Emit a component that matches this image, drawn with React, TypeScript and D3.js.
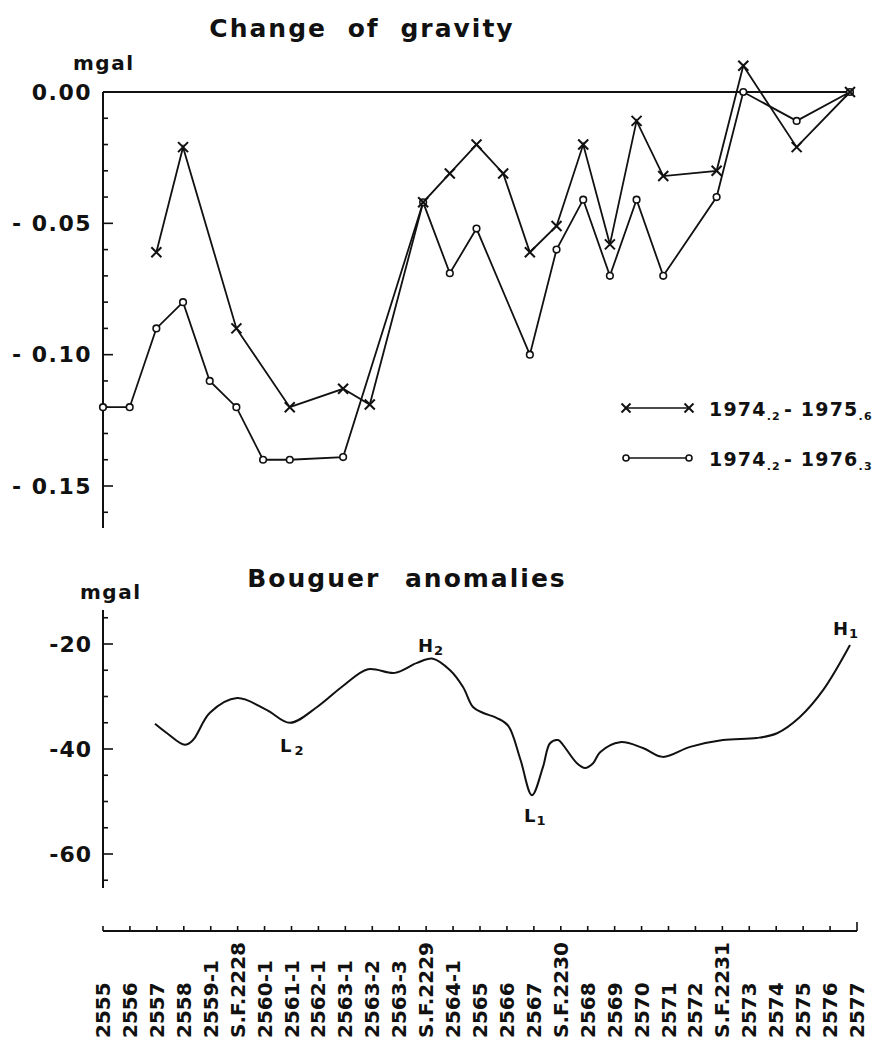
import React from "react";
import * as d3 from "d3";

const stations = [
  "2555", "2556", "2557", "2558", "2559-1", "S.F.2228", "2560-1", "2561-1",
  "2562-1", "2563-1", "2563-2", "2563-3", "S.F.2229", "2564-1", "2565", "2566",
  "2567", "S.F.2230", "2568", "2569", "2570", "2571", "2572", "S.F.2231",
  "2573", "2574", "2575", "2576", "2577",
];

// 1974.2 - 1975.6 (crosses)
const seriesAIdx = [2, 3, 5, 7, 9, 10, 12, 13, 14, 15, 16, 17, 18, 19, 20, 21, 23, 24, 26, 28];
const seriesAVal = [-0.061, -0.021, -0.09, -0.12, -0.113, -0.119, -0.042, -0.031, -0.02, -0.031, -0.061, -0.051, -0.02, -0.058, -0.011, -0.032, -0.03, 0.01, -0.021, 0];

// 1974.2 - 1976.3 (circles)
const seriesBIdx = [0, 1, 2, 3, 4, 5, 6, 7, 9, 12, 13, 14, 16, 17, 18, 19, 20, 21, 23, 24, 26, 28];
const seriesBVal = [-0.12, -0.12, -0.09, -0.08, -0.11, -0.12, -0.14, -0.14, -0.139, -0.042, -0.069, -0.052, -0.1, -0.06, -0.041, -0.07, -0.041, -0.07, -0.04, 0, -0.011, 0];

// Bouguer anomaly profile (station position, mgal)
const bouguerPos = [1.93, 2.38, 3.04, 3.34, 3.97, 4.98, 6.09, 6.94, 7.95, 8.91, 9.84, 10.84, 11.66, 12.25, 12.89, 13.37, 13.74, 14.1, 14.63, 15.05, 15.5, 15.93, 16.34, 16.6, 16.9, 17.08, 17.6, 17.9, 18.2, 18.46, 19.2, 20.05, 20.79, 21.8, 23.02, 24.28, 25.03, 25.88, 26.74, 27.74];
const bouguerVal = [-35.2, -37, -39.2, -38.3, -33.1, -30.3, -32.6, -35, -32, -28, -24.8, -25.5, -23.6, -22.8, -25, -28.2, -32, -33.1, -34.1, -35.6, -42, -48.8, -43.4, -38.9, -38.3, -39.2, -42.7, -43.6, -42.7, -40.6, -38.7, -39.8, -41.5, -39.6, -38.3, -37.9, -37, -33.9, -28.8, -20.2];

const topTicks = [0, -0.05, -0.1, -0.15];
const topTickLabels = ["0.00", "- 0.05", "- 0.10", "- 0.15"];
const botTicks = [-20, -40, -60];
const botTickLabels = ["-20", "-40", "-60"];

const FONT = "'DejaVu Sans', sans-serif";

function XMark({ x, y, s = 5 }: { x: number; y: number; s?: number }) {
  return (
    <g stroke="#111" strokeWidth={2}>
      <line x1={x - s} y1={y - s} x2={x + s} y2={y + s} />
      <line x1={x - s} y1={y + s} x2={x + s} y2={y - s} />
    </g>
  );
}

export default function App() {
  const xTop = d3.scaleLinear().domain([0, 28]).range([103, 850]);
  const xBot = d3.scaleLinear().domain([0, 28]).range([103, 857]);
  const yTop = d3.scaleLinear().domain([0, -0.15]).range([92, 486]);
  const yBot = d3.scaleLinear().domain([-20, -60]).range([644, 854]);

  const lineTop = d3.line<[number, number]>().x((d) => xTop(d[0])).y((d) => yTop(d[1]));
  const dataA: [number, number][] = seriesAIdx.map((i, k) => [i, seriesAVal[k]]);
  const dataB: [number, number][] = seriesBIdx.map((i, k) => [i, seriesBVal[k]]);
  const bData: [number, number][] = bouguerPos.map((p, k) => [p, bouguerVal[k]]);
  const lineBot = d3
    .line<[number, number]>()
    .x((d) => xBot(d[0]))
    .y((d) => yBot(d[1]))
    .curve(d3.curveCatmullRom.alpha(0.5));

  const topMinor = d3.range(0, 17).map((k) => -k * 0.01);
  const botMinor = d3.range(-15, -70, -5);
  const axisX = 103;

  return (
    <svg
      width={877}
      height={1040}
      style={{ position: "absolute", left: 0, top: 0, background: "#fff" }}
      fontFamily={FONT}
      fontWeight="bold"
      fill="#111"
    >
      {/* ---------- Top chart ---------- */}
      <text x={362} y={37} fontSize={25} textAnchor="middle" letterSpacing={2} wordSpacing={10}>
        Change of gravity
      </text>
      <text x={73} y={70} fontSize={20} letterSpacing={1.5}>mgal</text>

      <line x1={axisX} y1={yTop(0)} x2={axisX} y2={528} stroke="#111" strokeWidth={2} />
      <line x1={axisX} y1={yTop(0)} x2={xTop(28)} y2={yTop(0)} stroke="#111" strokeWidth={1.8} />
      {topMinor.map((v) => {
        const major = topTicks.some((t) => Math.abs(t - v) < 1e-9);
        return (
          <line key={"tm" + v} x1={axisX} x2={axisX + (major ? 10 : 5)} y1={yTop(v)} y2={yTop(v)} stroke="#111" strokeWidth={1.6} />
        );
      })}
      {topTicks.map((t, k) => (
        <text key={"tl" + t} x={92} y={yTop(t)} fontSize={22} textAnchor="end" dominantBaseline="central" letterSpacing={1.5}>
          {topTickLabels[k]}
        </text>
      ))}

      <path d={lineTop(dataB) || ""} fill="none" stroke="#111" strokeWidth={1.8} />
      <path d={lineTop(dataA) || ""} fill="none" stroke="#111" strokeWidth={1.8} />
      {dataB.map((d, k) => (
        <circle key={"cb" + k} cx={xTop(d[0])} cy={yTop(d[1])} r={3.3} fill="#fff" stroke="#111" strokeWidth={1.6} />
      ))}
      {dataA.map((d, k) => (
        <XMark key={"xa" + k} x={xTop(d[0])} y={yTop(d[1])} />
      ))}

      {/* legend */}
      <line x1={626} y1={408} x2={689} y2={408} stroke="#111" strokeWidth={1.6} />
      <XMark x={626} y={408} s={4.5} />
      <XMark x={689} y={408} s={4.5} />
      <text x={709} y={416} fontSize={19} letterSpacing={1.2}>
        1974<tspan fontSize={11} dy={4}>.2</tspan>
        <tspan dy={-4} dx={3}>- 1975</tspan>
        <tspan fontSize={11} dy={4}>.6</tspan>
      </text>
      <line x1={626} y1={458} x2={689} y2={458} stroke="#111" strokeWidth={1.6} />
      <circle cx={626} cy={458} r={3} fill="#fff" stroke="#111" strokeWidth={1.6} />
      <circle cx={689} cy={458} r={3} fill="#fff" stroke="#111" strokeWidth={1.6} />
      <text x={709} y={466} fontSize={19} letterSpacing={1.2}>
        1974<tspan fontSize={11} dy={4}>.2</tspan>
        <tspan dy={-4} dx={3}>- 1976</tspan>
        <tspan fontSize={11} dy={4}>.3</tspan>
      </text>

      {/* ---------- Bottom chart ---------- */}
      <text x={407} y={587} fontSize={25} textAnchor="middle" letterSpacing={2} wordSpacing={14}>
        Bouguer anomalies
      </text>
      <text x={80} y={599} fontSize={20} letterSpacing={1.5}>mgal</text>

      <line x1={axisX} y1={610} x2={axisX} y2={888} stroke="#111" strokeWidth={2} />
      {botMinor.map((v) => {
        const major = botTicks.includes(v);
        return (
          <line key={"bm" + v} x1={axisX} x2={axisX + (major ? 10 : 5)} y1={yBot(v)} y2={yBot(v)} stroke="#111" strokeWidth={1.6} />
        );
      })}
      {botTicks.map((t, k) => (
        <text key={"bl" + t} x={92} y={yBot(t)} fontSize={22} textAnchor="end" dominantBaseline="central" letterSpacing={1}>
          {botTickLabels[k]}
        </text>
      ))}

      <path d={lineBot(bData) || ""} fill="none" stroke="#111" strokeWidth={2} />

      <text x={280} y={752} fontSize={18}>
        L<tspan fontSize={13} dx={3} dy={3}>2</tspan>
      </text>
      <text x={418} y={652} fontSize={18}>
        H<tspan fontSize={13} dx={1} dy={3}>2</tspan>
      </text>
      <text x={524} y={822} fontSize={18}>
        L<tspan fontSize={13} dx={1} dy={3}>1</tspan>
      </text>
      <text x={833} y={635} fontSize={18}>
        H<tspan fontSize={13} dx={1} dy={3}>1</tspan>
      </text>

      {/* ---------- x axis ---------- */}
      <line x1={xBot(0)} y1={931} x2={xBot(28)} y2={931} stroke="#111" strokeWidth={1.8} />
      {stations.map((s, i) => (
        <line key={"xt" + i} x1={xBot(i)} x2={xBot(i)} y1={931} y2={i === 28 ? 922 : 926} stroke="#111" strokeWidth={1.6} />
      ))}
      {stations.map((s, i) => (
        <text
          key={"xl" + i}
          transform={`translate(${xBot(i)},1038) rotate(-90)`}
          fontSize={20}
          dominantBaseline="central"
          textAnchor="start"
        >
          {s}
        </text>
      ))}
    </svg>
  );
}
